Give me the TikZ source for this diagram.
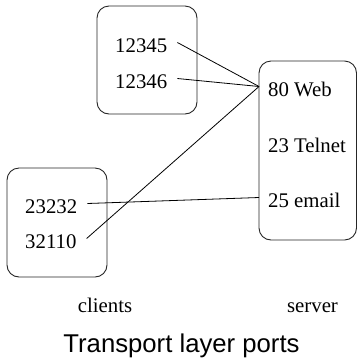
\documentclass[tikz,border=0pt]{standalone}
\usepackage{fontspec}
\setmainfont{Liberation Serif}
\newfontfamily\titlefont{Liberation Sans}
\usetikzlibrary{calc}
\tikzset{
  portbox/.style={draw=black!85, line width=0.9pt, rounded corners=12pt},
  port/.style={font=\fontsize{20.8}{24}\selectfont, inner ysep=0pt, inner xsep=0pt, text height=19pt, text depth=0pt, anchor=base west},
  cport/.style={port, inner xsep=10pt, xshift=-10pt},
  lbl/.style={font=\fontsize{20.8}{24}\selectfont, inner sep=0pt, anchor=base},
  link/.style={draw=black, line width=0.8pt}
}
\begin{document}
\begin{tikzpicture}[x=1pt,y=-1pt]
\useasboundingbox (0,0) rectangle (358,357);
% boxes
\draw[portbox] (97,6) rectangle (197,114);
\draw[portbox] (7,168) rectangle (107,277);
\draw[portbox] (259,61) rectangle (356.5,240);
\coordinate (srv) at (259,150);
% client ports
\node[cport] (a) at (115,52) {12345};
\node[cport] (b) at (115,88) {12346};
\node[cport] (c) at (25,213) {23232};
\node[cport] (d) at (25,248) {32110};
% server ports
\node[port] (web) at (268,96) {80 Web};
\node[port] (tel) at (268,152) {23 Telnet};
\node[port] (mail) at (268,207) {25 email};
% connectors
\draw[link] (a.east) -- (srv |- web.east);
\draw[link] (b.east) -- (srv |- web.east);
\draw[link] (d.east) -- (srv |- web.east);
\draw[link] (c.east) -- (srv |- mail.east);
% labels
\node[lbl] (cl) at (105,312) {clients};
\node[lbl] (sv) at (312.5,312) {server};
\node[inner sep=0pt, anchor=base, font=\titlefont\fontsize{25.7}{30}\selectfont] (title) at (181.5,352) {Transport layer ports};
\end{tikzpicture}
\end{document}
